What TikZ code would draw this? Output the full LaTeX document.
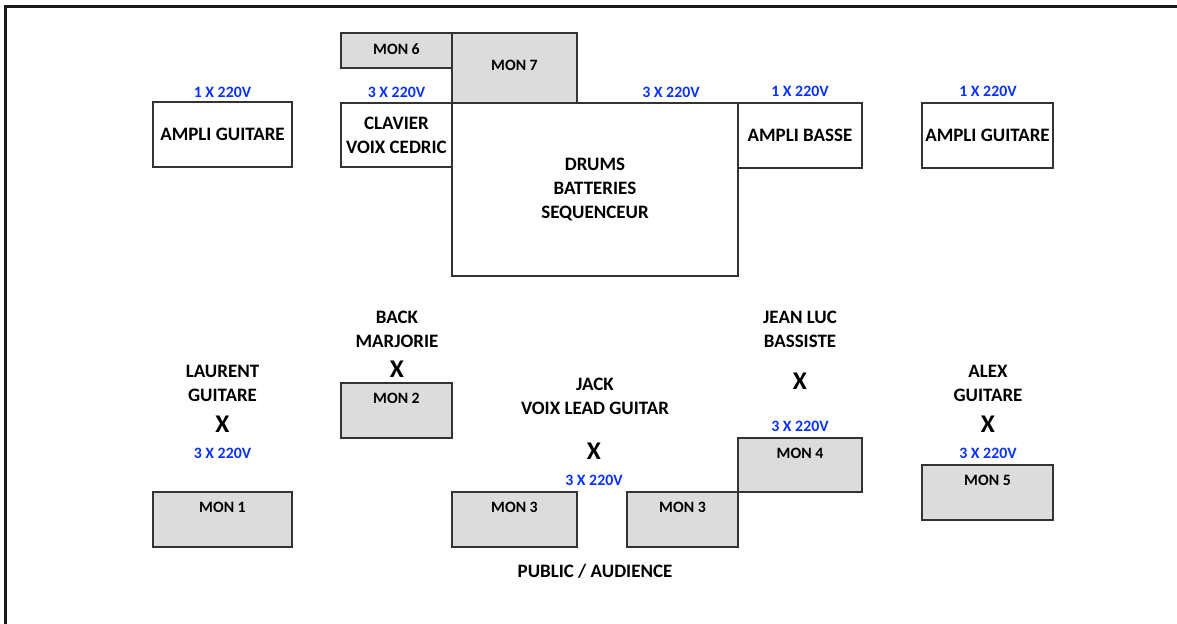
\documentclass[tikz,border=0pt]{standalone}
\usepackage{fontspec}
\setmainfont{Carlito}
\usetikzlibrary{positioning}

\definecolor{mongray}{RGB}{220,220,220}
\definecolor{pwblue}{RGB}{10,50,255}

\begin{document}
\begin{tikzpicture}[
  font=\bfseries,
  box/.style={draw=black!80, line width=0.85pt, inner sep=0pt, align=center,
              font=\bfseries\fontsize{10.8}{13.7}\selectfont},
  mon/.style={box, fill=mongray},
  monlbl/.style={anchor=north, inner sep=0pt, yshift=-0.22cm,
                 font=\bfseries\fontsize{9}{11}\selectfont},
  pw/.style={text=pwblue, inner sep=0pt, font=\bfseries\fontsize{9}{11}\selectfont},
  who/.style={align=center, inner sep=0pt, font=\bfseries\fontsize{10.8}{13.7}\selectfont},
  xmark/.style={inner sep=0pt, font=\bfseries\fontsize{14.5}{17}\selectfont},
  frame/.style={line width=0.06cm, draw=black!90}
]
\useasboundingbox (0,0) rectangle (23.54,-12.46);
\draw[frame] (0.12,-12.7) |- (23.8,-0.12);

% back line
\node[box, minimum width=2.78cm, minimum height=1.30cm] (ampL) at (4.45,-2.69) {AMPLI GUITARE};
\node[mon, minimum width=2.22cm, minimum height=0.70cm,
      label={[monlbl]north:MON 6}] (mon6) at (7.93,-1.01) {};
\node[mon, minimum width=2.50cm, minimum height=1.40cm,
      label={[monlbl, yshift=-0.34cm]north:MON 7}] (mon7) at (10.29,-1.36) {};
\node[box, minimum width=2.22cm, minimum height=1.28cm] (clav) at (7.93,-2.70) {CLAVIER\\VOIX CEDRIC};
\node[box, minimum width=5.72cm, minimum height=3.46cm] (drums) at (11.90,-3.79) {DRUMS\\BATTERIES\\SEQUENCEUR};
\node[box, minimum width=2.48cm, minimum height=1.30cm] (ampB) at (16.00,-2.71) {AMPLI BASSE};
\node[box, minimum width=2.62cm, minimum height=1.30cm] (ampR) at (19.75,-2.71) {AMPLI GUITARE};

\node[pw] (pwAmpL) at (4.45,-1.84) {1 X 220V};
\node[pw] (pwClav) at (7.93,-1.84) {3 X 220V};
\node[pw] (pwDrums) at (13.42,-1.84) {3 X 220V};
\node[pw] (pwAmpB) at (16.00,-1.83) {1 X 220V};
\node[pw] (pwAmpR) at (19.76,-1.83) {1 X 220V};

% musicians
\node[who] (lau) at (4.45,-7.67) {LAURENT\\GUITARE};
\node[xmark] (xLau) at (4.45,-8.48) {X};
\node[pw] (pwLau) at (4.45,-9.07) {3 X 220V};

\node[who] (back) at (7.94,-6.59) {BACK\\MARJORIE};
\node[xmark] (xBack) at (7.94,-7.39) {X};

\node[who] (jack) at (11.90,-7.92) {JACK\\VOIX LEAD GUITAR};
\node[xmark] (xJack) at (11.88,-9.02) {X};
\node[pw] (pwJack) at (11.88,-9.60) {3 X 220V};

\node[who] (jean) at (16.00,-6.59) {JEAN LUC\\BASSISTE};
\node[xmark] (xJean) at (16.00,-7.62) {X};
\node[pw] (pwJean) at (16.00,-8.53) {3 X 220V};

\node[who] (alex) at (19.76,-7.67) {ALEX\\GUITARE};
\node[xmark] (xAlex) at (19.76,-8.48) {X};
\node[pw] (pwAlex) at (19.76,-9.06) {3 X 220V};

% front monitors
\node[mon, minimum width=2.22cm, minimum height=1.10cm,
      label={[monlbl]north:MON 2}] (mon2) at (7.93,-8.21) {};
\node[mon, minimum width=2.78cm, minimum height=1.10cm,
      label={[monlbl]north:MON 1}] (mon1) at (4.45,-10.39) {};
\node[mon, minimum width=2.50cm, minimum height=1.10cm,
      label={[monlbl]north:MON 3}] (mon3a) at (10.29,-10.39) {};
\node[mon, minimum width=2.22cm, minimum height=1.10cm,
      label={[monlbl]north:MON 3}] (mon3b) at (13.65,-10.39) {};
\node[mon, minimum width=2.48cm, minimum height=1.08cm,
      label={[monlbl]north:MON 4}] (mon4) at (16.00,-9.30) {};
\node[mon, minimum width=2.62cm, minimum height=1.10cm,
      label={[monlbl]north:MON 5}] (mon5) at (19.75,-9.85) {};

\node[who] (public) at (11.90,-11.43) {PUBLIC / AUDIENCE};
\end{tikzpicture}
\end{document}
